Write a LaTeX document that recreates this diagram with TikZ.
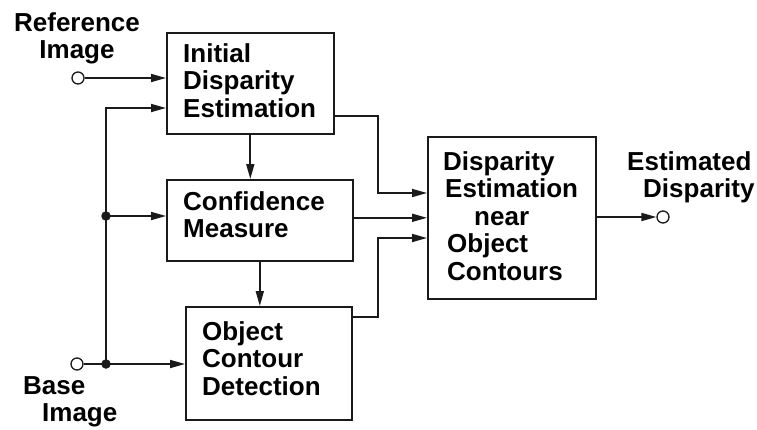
\documentclass[tikz,border=0pt]{standalone}
\usepackage{fontspec}
\setmainfont{Liberation Sans}
\usetikzlibrary{arrows.meta}
\definecolor{ink}{HTML}{1A1A1A}
\begin{document}
\begin{tikzpicture}[x=1pt,y=-1pt,
  box/.style={draw=ink,line width=1.6pt,rectangle,inner sep=0pt,anchor=north west},
  lbl/.style={inner sep=0pt,anchor=north west,align=left,text=black,font=\fontsize{26}{27.5}\selectfont\bfseries},
  wire/.style={draw=ink,line width=1.7pt},
  arr/.style={wire,-{Triangle[length=15pt,width=8pt]}},
  opencirc/.style={circle,draw=ink,fill=white,line width=1.3pt,minimum size=12pt,inner sep=0pt},
  dotc/.style={circle,fill=ink,minimum size=9.5pt,inner sep=0pt}]
\useasboundingbox (0,0) rectangle (757,429);
% boxes
\node[box,minimum width=167pt,minimum height=101pt] (ide) at (166,32) {};
\node[box,minimum width=186pt,minimum height=81pt] (cm) at (166,179) {};
\node[box,minimum width=166pt,minimum height=113pt] (ocd) at (185,306) {};
\node[box,minimum width=168pt,minimum height=162pt] (de) at (427,136) {};
% box texts
\node[lbl] (tide) at (183,43) {Initial\\Disparity\\Estimation};
\node[lbl] (tcm) at (183,191) {Confidence\\Measure};
\node[lbl] (tocd) at (202,321) {Object\\Contour\\Detection};
\node[lbl] (tde) at (443,151) {Disparity\\\hspace{2pt}Estimation\\\hspace{31pt}near\\\hspace{4pt}Object\\\hspace{4pt}Contours};
% outer labels
\node[lbl,anchor=north,align=center] (tref) at (77,12) {Reference\\Image};
\node[lbl] (tbase) at (23,376) {Base\\\hspace{19pt}Image};
\node[lbl] (test) at (627,151) {Estimated\\\hspace{16pt}Disparity};
% terminals and junctions
\node[opencirc] (ref) at (78,78) {};
\node[opencirc] (base) at (77,364) {};
\node[opencirc] (out) at (663,217) {};
\coordinate (t1) at (106,108);
\coordinate (i1) at (378,116);
\coordinate (i2) at (378,193);
\coordinate (o1) at (378,317);
\coordinate (o2) at (378,238);
% connectors
\draw[arr] (ref) -- (ref -| ide.west);
\draw[wire] (base) -- (106,364) coordinate (jbp);
\draw[arr] (jbp) -- (t1) -- (t1 -| ide.west);
\draw[arr] (jbp) -- (jbp -| ocd.west);
\coordinate (jcp) at (106,216);
\draw[arr] (jcp) -- (jcp -| cm.west);
\node[dotc] (jb) at (jbp) {};
\node[dotc] (jc) at (jcp) {};
\draw[arr] (ide.south) -- (ide.south |- cm.north);
\draw[arr] (cm.south) -- (cm.south |- ocd.north);
\draw[arr] (i1 -| ide.east) -- (i1) -- (i2) -- (i2 -| de.west);
\draw[arr] (de.west -| cm.east) -- (de.west);
\draw[arr] (o1 -| ocd.east) -- (o1) -- (o2) -- (o2 -| de.west);
\draw[arr] (out -| de.east) -- (out.west);
\end{tikzpicture}
\end{document}
